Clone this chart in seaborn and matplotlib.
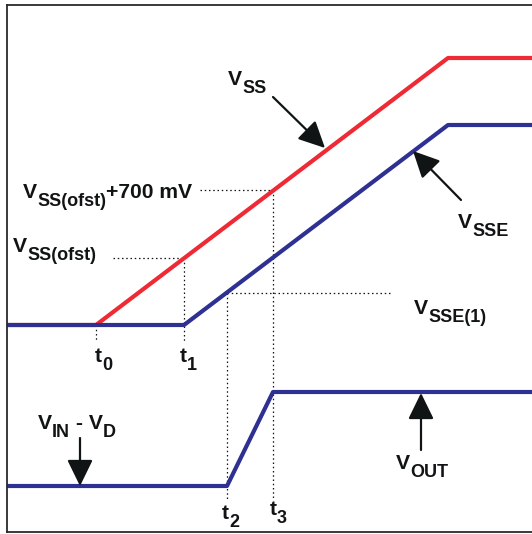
import matplotlib.pyplot as plt
import seaborn as sns

sns.set_theme(style="white")
plt.rcParams["font.family"] = ["Liberation Sans", "DejaVu Sans"]

RED = "#EE2A35"
BLUE = "#2E3192"
INK = "#111414"

# waveform corners (x = time, y = level, both in picture units, y grows downward)
vss_x = [7, 96, 448, 532]
vss_y = [325, 325, 58, 58]
vsse_x = [7, 184, 448, 532]
vsse_y = [325, 325, 125, 125]
vout_x = [7, 227, 273, 532]
vout_y = [486, 486, 392, 392]

# time markers
t_names = ["0", "1", "2", "3"]
t_x = [96, 184, 227, 273]
t_top = [325, 258, 293, 190]
t_bottom = [342, 342, 499, 499]

# horizontal dotted guides: level, start, end
guide_y = [190, 258, 293]
guide_x0 = [200, 113, 227]
guide_x1 = [273, 184, 392]

fig = plt.figure(figsize=(5.32, 5.34), dpi=100)
ax = fig.add_axes([7 / 532, 2 / 534, 525 / 532, 527 / 534])
ax.set_xlim(7, 532)
ax.set_ylim(532, 5)
ax.set_xticks([])
ax.set_yticks([])
for side in ["left", "top", "bottom"]:
    ax.spines[side].set_color("#2a2a2a")
    ax.spines[side].set_linewidth(1.3)
ax.spines["right"].set_visible(False)

# dotted guides
for y, x0, x1 in zip(guide_y, guide_x0, guide_x1):
    ax.plot([x0, x1], [y, y], color=INK, lw=0.9, ls=(0, (1.2, 2.2)))
for x, y0, y1 in zip(t_x, t_top, t_bottom):
    ax.plot([x, x], [y0, y1], color=INK, lw=0.9, ls=(0, (1.2, 2.2)))

# waveforms
sns.lineplot(x=vss_x, y=vss_y, color=RED, lw=3, estimator=None, sort=False, ax=ax)
sns.lineplot(x=vsse_x, y=vsse_y, color=BLUE, lw=3, estimator=None, sort=False, ax=ax)
sns.lineplot(x=vout_x, y=vout_y, color=BLUE, lw=3, estimator=None, sort=False, ax=ax)


def label(x, y, parts, size=15.2, sub_size=13, drop=8):
    # parts: list of (text, is_subscript), chained left to right
    last = None
    for text, is_sub in parts:
        yy = y + drop if is_sub else y
        fs = sub_size if is_sub else size
        if last is None:
            last = ax.text(x, yy, text, fontsize=fs, fontweight="bold",
                           color=INK, va="baseline", ha="left")
        else:
            last = ax.annotate(text, xy=(1, yy), xycoords=(last, "data"),
                               fontsize=fs, fontweight="bold", color=INK,
                               va="baseline", ha="left")


label(228, 85, [("V", False), ("SS", True)])
label(23, 198, [("V", False), ("SS(ofst)", True), ("+700 mV", False)])
label(13, 252, [("V", False), ("SS(ofst)", True)])
label(458, 228, [("V", False), ("SSE", True)])
label(414, 314, [("V", False), ("SSE(1)", True)])
label(38, 429, [("V", False), ("IN", True), (" - V", False), ("D", True)])
label(396, 469, [("V", False), ("OUT", True)])

t_label_x = [95, 180, 222, 270]
t_label_y = [362, 362, 519, 515]
for name, x, y in zip(t_names, t_label_x, t_label_y):
    label(x, y, [("t", False), (name, True)])


def arrow(tail, tip):
    ax.annotate("", xy=tip, xytext=tail,
                arrowprops=dict(arrowstyle="-|>,head_length=0.45,head_width=0.22",
                                color=INK, lw=1.6, mutation_scale=36,
                                shrinkA=0, shrinkB=0))


arrow((273, 97), (325, 148))
arrow((461, 200), (413, 151))
arrow((80, 438), (80, 486))
arrow((421, 450), (421, 393))

fig.savefig("out.png", dpi=100, facecolor="white")
